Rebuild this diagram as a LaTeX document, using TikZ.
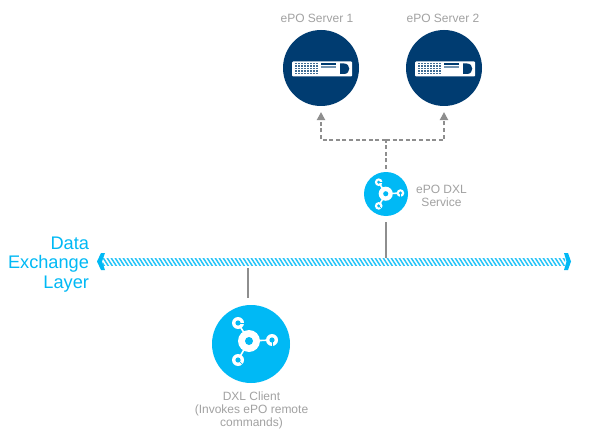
\documentclass[tikz,border=0pt]{standalone}
\usepackage{fontspec}
\setmainfont{Liberation Sans}
\usetikzlibrary{arrows.meta}
\definecolor{navy}{HTML}{003C71}
\definecolor{cyanb}{HTML}{00B9F5}
\definecolor{lab}{HTML}{A2A2A2}
\definecolor{conn}{HTML}{8E8E8E}
\tikzset{
  x=1pt,y=-1pt,
  server/.style={circle,fill=navy,minimum size=76pt,inner sep=0pt},
  hub/.style={circle,fill=cyanb,inner sep=0pt},
  lbl/.style={text=lab,align=center,font=\fontsize{12}{13}\selectfont},
  dxl/.style={text=cyanb,align=right,font=\fontsize{18.2}{19.2}\selectfont},
  solidc/.style={conn,line width=1.1pt},
  dashc/.style={conn,line width=1.1pt,dash pattern=on 4pt off 2.6pt},
  tip/.style={-{Triangle[length=8pt,width=8.5pt]}},
  pics/srv/.style={code={
    \fill[white,rounded corners=1pt] (-29,-6.5) rectangle (31,8.5);
    \foreach \i in {0,...,7}{\foreach \j in {0,...,4}{
      \fill[navy!75] (-26+\i*3,-5+\j*2.4) rectangle ++(1.8,1.5);}}
    \fill[navy] (0,-4.5) rectangle (15,-3.2);
    \fill[navy!55] (0,-2.2) rectangle (15,-0.4);
    \fill[navy] (19,-4.5) -- (23,-4.5) .. controls (30,-4.5) and (30,6) .. (23,6) -- (19,6) -- cycle;
  }},
  pics/dxlicon/.style={code={
    \draw[white,line width=1.6pt]
      (-2,-2) -- (-13,-20)  (-2,-2) -- (21,-3)  (-2,-2) -- (-13,17);
    \fill[white] (-2,-2) circle[radius=11];
    \fill[cyanb] (-2,-2) circle[radius=4];
    \foreach \a/\b/\p/\q in {-13/-20/7/0,21/-3/0/7,-13/17/5/5}{
      \fill[white] (\a,\b) circle[radius=6];
      \fill[cyanb] (\a,\b) circle[radius=2.6];
      \draw[cyanb,line width=.7pt] (\a,\b) -- ++(\p,\q);
    }
  }},
}
\begin{document}
\begin{tikzpicture}
\useasboundingbox (0,0) rectangle (589,441);
\fill[white] (0,0) rectangle (589,441);
% band
\begin{scope}
  \clip (103,258) rectangle (565,265);
  \foreach \i in {0,...,118}{
    \draw[cyanb!85,line width=1.5pt] (98+\i*4,256) -- (105+\i*4,267);
  }
\end{scope}
\coordinate (bandA) at (386,258);
\coordinate (bandB) at (248,268);
\fill[cyanb] (101,253) -- (97,261.5) -- (101,270) -- (105,270) -- (102,261.5) -- (105,253) -- cycle;
\fill[cyanb] (564,253) -- (568,253) -- (571,261.5) -- (568,270) -- (564,270) -- (566.5,261.5) -- cycle;
% nodes
\node[server] (s1) at (321,68) {};
\node[server] (s2) at (444,68) {};
\pic at (321,68) {srv};
\pic at (444,68) {srv};
\node[lbl] (l1) at (317,18) {ePO Server 1};
\node[lbl] (l2) at (443,18) {ePO Server 2};
\node[hub,minimum size=44pt] (svc) at (386,194) {};
\node[hub,minimum size=78pt] (cli) at (251,344) {};
\pic[scale=.64] at (387,195) {dxlicon};
\pic at (251,343) {dxlicon};
\node[lbl] (l3) at (441.5,195.5) {ePO DXL\\Service};
\node[lbl] (l4) at (251.5,410.5) {DXL Client\\(Invokes ePO remote\\commands)};
\node[dxl,anchor=east] (l5) at (92.5,264.5) {Data\\Exchange\\Layer};
% connectors
\coordinate (j) at (386,140);
\coordinate (top) at (386,169);
\draw[dashc] (top) -- (j);
\draw[dashc,tip] (j) -| ([yshift=-6pt]s1.south);
\draw[dashc,tip] (j) -| ([yshift=-6pt]s2.south);
\draw[solidc] (386,222) -- (bandA);
\draw[solidc] (bandB) -- (248,298);
\end{tikzpicture}
\end{document}
